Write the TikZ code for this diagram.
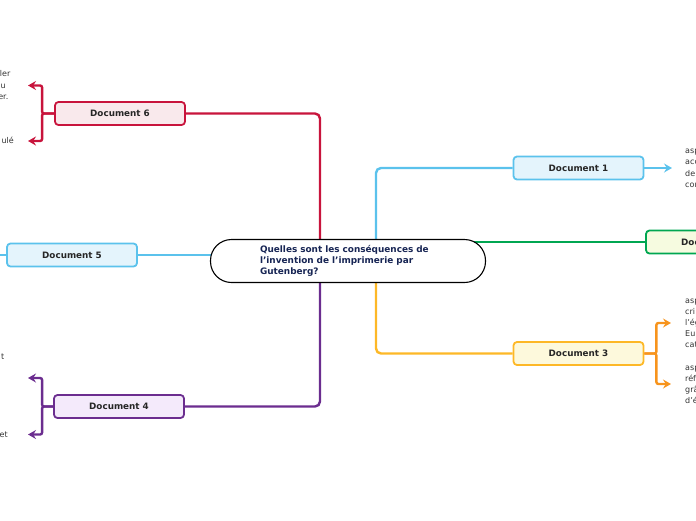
\documentclass[tikz,border=0pt]{standalone}
\usepackage{fontspec}
\setmainfont{DejaVu Sans}
\usetikzlibrary{arrows.meta,backgrounds}
\definecolor{crim}{HTML}{C8143C}
\definecolor{crimfill}{HTML}{F9E9EC}
\definecolor{sky}{HTML}{5BC2EC}
\definecolor{skyfill}{HTML}{E4F4FC}
\definecolor{purp}{HTML}{6B2D8F}
\definecolor{purpfill}{HTML}{F4EAFB}
\definecolor{grn}{HTML}{00A651}
\definecolor{grnfill}{HTML}{F6FBE0}
\definecolor{yel}{HTML}{FDB827}
\definecolor{yelfill}{HTML}{FDF9DC}
\definecolor{orng}{HTML}{F7941D}
\definecolor{navy}{HTML}{172554}
\definecolor{txt}{HTML}{333333}
\newcommand{\sq}{\symbol{39}}
\begin{document}
\begin{tikzpicture}[x=1pt,y=-1pt,
  docbox/.style={draw, line width=1.8pt, rounded corners=3.5pt, minimum width=130pt,
    minimum height=23pt, inner sep=0pt, font=\fontsize{8.8}{10}\selectfont\bfseries, text=black!85},
  conn/.style={line width=2.4pt, rounded corners=5pt},
  bracket/.style={line width=2.4pt, rounded corners=2pt},
  tipend/.style={-{Stealth[length=8pt,width=9pt,inset=2.8pt]}},
  childl/.style={anchor=base west, inner sep=0pt, font=\fontsize{8}{10}\selectfont, text=txt},
  childr/.style={anchor=base east, inner sep=0pt, font=\fontsize{8}{10}\selectfont, text=txt}]
\useasboundingbox (0,0) rectangle (696,520);
\clip (0,0) rectangle (696,520);

% central topic
\node[draw=black, line width=1.1pt, rounded corners=21pt, fill=white,
  minimum width=275pt, minimum height=43pt, inner sep=0pt,
  text width=188pt, align=left, text=navy,
  execute at begin node={\leftskip=6pt},
  font=\fontsize{8.9}{11.3}\selectfont\bfseries] (c) at (348,261)
  {Quelles sont les conséquences de\\ l\sq invention de l\sq imprimerie par\\ Gutenberg?};

% documents
\node[docbox, draw=crim, fill=crimfill] (d6) at (120,113.5) {Document 6};
\node[docbox, draw=sky, fill=skyfill] (d5) at (72,255) {Document 5};
\node[docbox, draw=purp, fill=purpfill] (d4) at (119,406.5) {Document 4};
\node[docbox, draw=sky, fill=skyfill] (d1) at (578.5,168) {Document 1};
\node[docbox, draw=grn, fill=grnfill] (d2) at (711,242) {Document 2};
\node[docbox, draw=yel, fill=yelfill] (d3) at (578.5,353.5) {Document 3};

% free ends
\coordinate (l5) at (-10,255);
\coordinate (a6t) at (28,85.5);
\coordinate (a6b) at (28,141);
\coordinate (a4t) at (28,378);
\coordinate (a4b) at (28,434.5);
\coordinate (a1) at (672,168);
\coordinate (a3t) at (671,323);
\coordinate (a3b) at (671,384);

\begin{scope}[on background layer]
\draw[conn, crim] (d6.east) -| ([xshift=-28pt]c.center);
\draw[conn, purp] (d4.east) -| ([xshift=-28pt]c.center);
\draw[conn, sky] (d1.west) -| ([xshift=28pt]c.center);
\draw[conn, yel] (d3.west) -| ([xshift=28pt]c.center);
\draw[conn, grn] (d2.west) -- (c.center |- d2.west);
\draw[conn, sky] (d5.east) -- (c.center |- d5.east);
\draw[conn, sky] (d5.west) -- (l5);
\end{scope}

% child arrows
\draw[bracket, crim, tipend] (d6.west) -- ++(-12,0) |- (a6t);
\draw[bracket, crim, tipend] (d6.west) -- ++(-12,0) |- (a6b);
\draw[bracket, purp, tipend] (d4.west) -- ++(-11,0) |- (a4t);
\draw[bracket, purp, tipend] (d4.west) -- ++(-11,0) |- (a4b);
\draw[bracket, sky, tipend] (d1.east) -- (a1);
\draw[bracket, orng, tipend] (d3.east) -- ++(12,0) |- (a3t);
\draw[bracket, orng, tipend] (d3.east) -- ++(12,0) |- (a3b);

% child texts (cut by the picture edge, as in the reference)
\node[childr] (t6a) at (10.5,76.5) {ler};
\node[childr] (t6b) at (6,88) {u};
\node[childr] (t6c) at (8.5,99.5) {er.};
\node[childr] (t6d) at (14,143.5) {ulé};
\node[childr] (t4a) at (4.5,359) {t};
\node[childr] (t4b) at (8,437) {et};

\node[childl] (t1a) at (685,153.5) {asp};
\node[childl] (t1b) at (685,164.8) {acc};
\node[childl] (t1c) at (685,176.1) {de};
\node[childl] (t1d) at (685,187.5) {con};

\node[childl] (t3a) at (685,303.5) {asp};
\node[childl] (t3b) at (685,314.5) {cri};
\node[childl] (t3c) at (685,325.5) {l\sq ég};
\node[childl] (t3d) at (685,336.5) {Eu};
\node[childl] (t3e) at (685,347.5) {cat};
\node[childl] (t3f) at (685,370) {asp};
\node[childl] (t3g) at (685,381) {réf};
\node[childl] (t3h) at (685,392) {grâ};
\node[childl] (t3i) at (685,403) {d\sq é};
\end{tikzpicture}
\end{document}
